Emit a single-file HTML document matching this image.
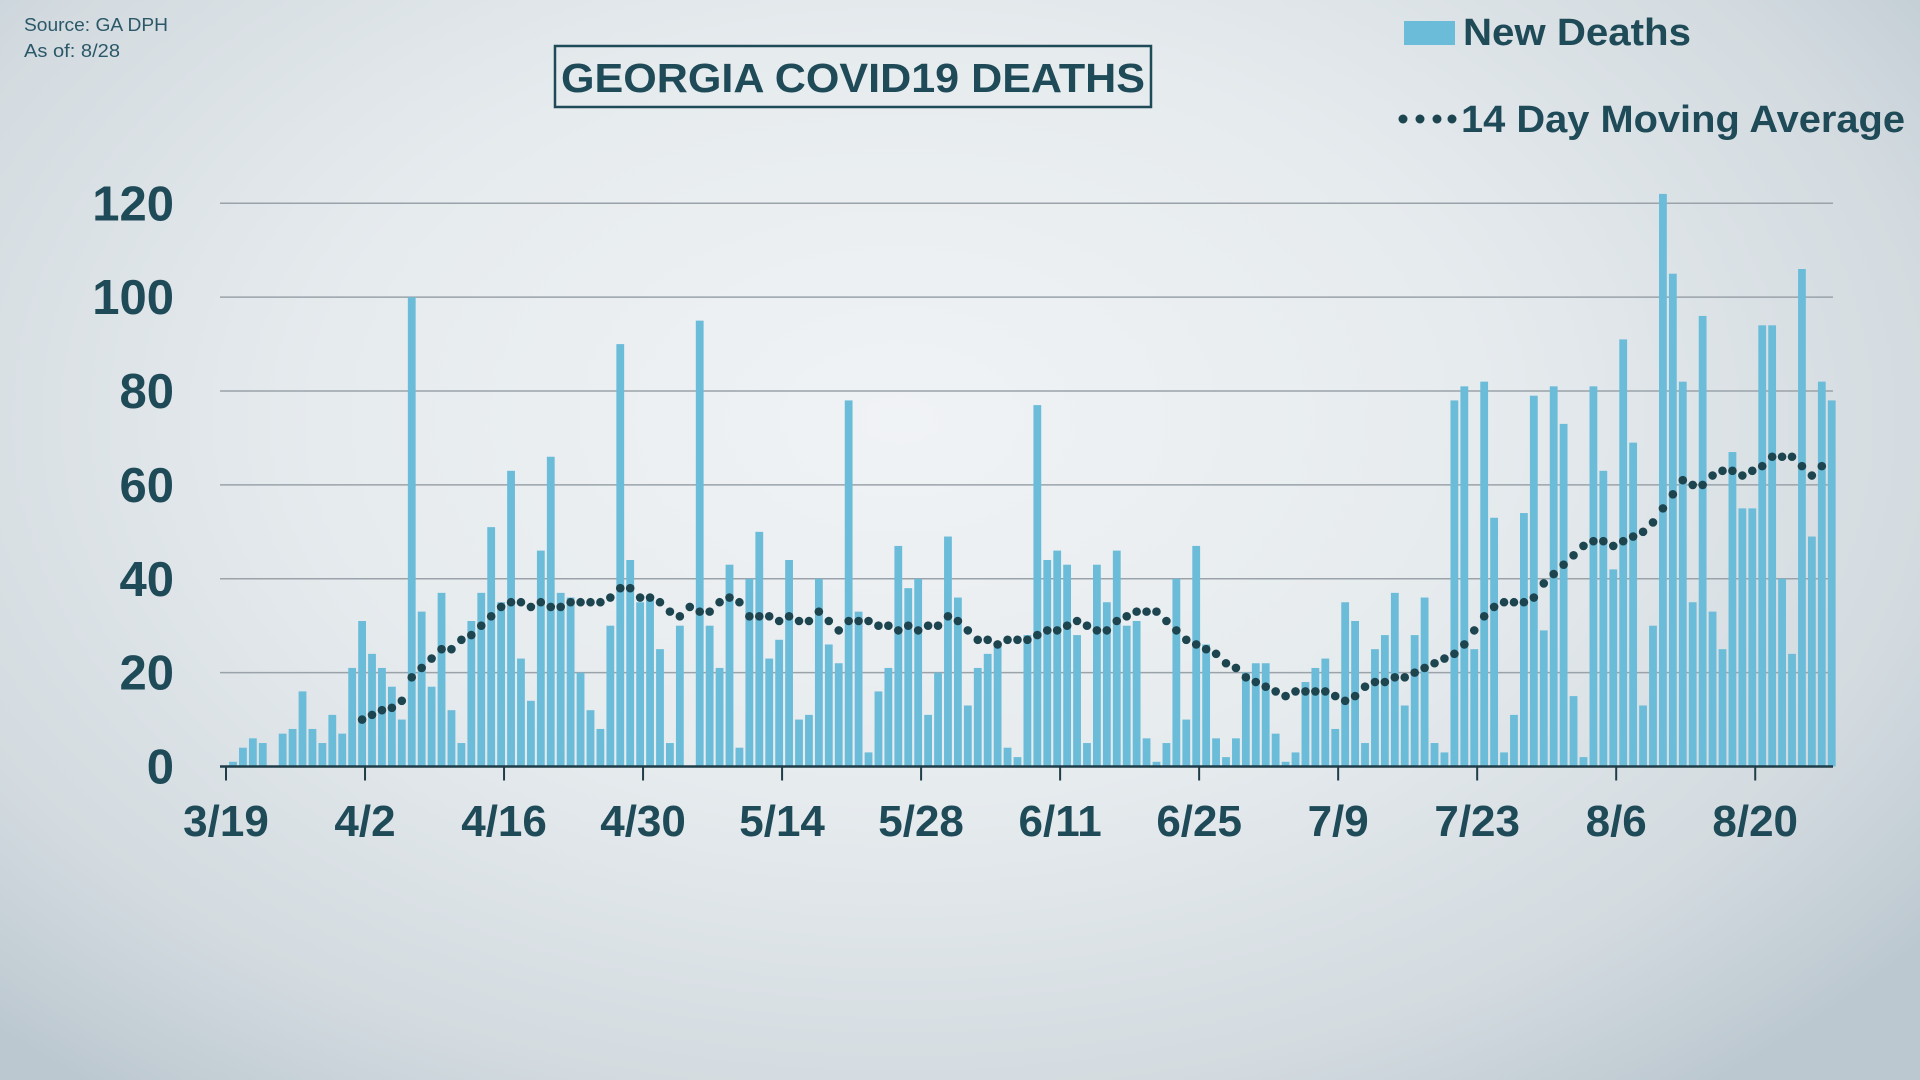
<!DOCTYPE html>
<html><head><meta charset="utf-8">
<style>
html,body{margin:0;padding:0;}
body{width:1920px;height:1080px;overflow:hidden;font-family:"Liberation Sans",sans-serif;
background:radial-gradient(ellipse 1300px 850px at 900px 420px,#f0f3f5 0%,#e6ebee 45%,#d3dbe0 80%,#bcc8d0 100%);}
svg{position:absolute;left:0;top:0;}
</style></head>
<body>
<svg id="chart" width="1920" height="1080">
<text x="24" y="31" font-size="18" fill="#2b5868" textLength="144" lengthAdjust="spacingAndGlyphs">Source: GA DPH</text>
<text x="24" y="57" font-size="18" fill="#2b5868" textLength="96" lengthAdjust="spacingAndGlyphs">As of: 8/28</text>
<rect x="555" y="46" width="596" height="61" fill="none" stroke="#1f4a58" stroke-width="2.5"/>
<text x="853" y="92" font-size="41" font-weight="bold" fill="#1f4a58" text-anchor="middle" textLength="584" lengthAdjust="spacingAndGlyphs">GEORGIA COVID19 DEATHS</text>
<rect x="1404" y="21" width="51" height="24" fill="#6bbcd9"/>
<text x="1463" y="45" font-size="38" font-weight="bold" fill="#1f4a58" textLength="228" lengthAdjust="spacingAndGlyphs">New Deaths</text>
<circle cx="1403" cy="119" r="4.5" fill="#1d4550"/>
<circle cx="1420" cy="119" r="4.5" fill="#1d4550"/>
<circle cx="1437" cy="119" r="4.5" fill="#1d4550"/>
<circle cx="1452" cy="119" r="4.5" fill="#1d4550"/>
<text x="1461" y="132" font-size="38" font-weight="bold" fill="#1f4a58" textLength="444" lengthAdjust="spacingAndGlyphs">14 Day Moving Average</text>
<g id="grid"></g><g id="bars"></g><g id="axis"></g><g id="ma"></g>
</svg>
<script>
const yTicks=[0,20,40,60,80,100,120];
const xTickLabels=["3/19","4/2","4/16","4/30","5/14","5/28","6/11","6/25","7/9","7/23","8/6","8/20"];
const newDeaths=[1,4,6,5,0,7,8,16,8,5,11,7,21,31,24,21,17,10,100,33,17,37,12,5,31,37,51,35,63,23,14,46,66,37,36,20,12,8,30,90,44,35,36,25,5,30,0,95,30,21,43,4,40,50,23,27,44,10,11,40,26,22,78,33,3,16,21,47,38,40,11,20,49,36,13,21,24,26,4,2,28,77,44,46,43,28,5,43,35,46,30,31,6,1,5,40,10,47,26,6,2,6,20,22,22,7,1,3,18,21,23,8,35,31,5,25,28,37,13,28,36,5,3,78,81,25,82,53,3,11,54,79,29,81,73,15,2,81,63,42,91,69,13,30,122,105,82,35,96,33,25,67,55,55,94,94,40,24,106,49,82,78];
const maStart=13;
const movingAvg=[10,11,12,12.5,14,19,21,23,25,25,27,28,30,32,34,35,35,34,35,34,34,35,35,35,35,36,38,38,36,36,35,33,32,34,33,33,35,36,35,32,32,32,31,32,31,31,33,31,29,31,31,31,30,30,29,30,29,30,30,32,31,29,27,27,26,27,27,27,28,29,29,30,31,30,29,29,31,32,33,33,33,31,29,27,26,25,24,22,21,19,18,17,16,15,16,16,16,16,15,14,15,17,18,18,19,19,20,21,22,23,24,26,29,32,34,35,35,35,36,39,41,43,45,47,48,48,47,48,49,50,52,55,58,61,60,60,62,63,63,62,63,64,66,66,66,64,62,64];
const NS='http://www.w3.org/2000/svg';
const y0=766.5,yTop=203.3,yMax=120;
function yScale(v){return y0-(v/yMax)*(y0-yTop);}
const step=9.93;
function xScale(i){return 233+i*step;}
function tickX(i){return 226+i*step;}
function mk(tag,attrs,parent){const e=document.createElementNS(NS,tag);for(const k in attrs)e.setAttribute(k,attrs[k]);parent.appendChild(e);return e;}
const grid=document.getElementById('grid'),bars=document.getElementById('bars'),axis=document.getElementById('axis'),ma=document.getElementById('ma');
yTicks.forEach(v=>{
  if(v>0){const l=mk('line',{x1:220,x2:1833,y1:yScale(v),y2:yScale(v),stroke:'#9aa3aa','stroke-width':1.5},grid);
  
  }
  const t=mk('text',{x:174,y:yScale(v)+17,'font-size':49,'font-weight':'bold',fill:'#1f4a58','text-anchor':'end'},axis);
  t.textContent=v;
  
  
});
newDeaths.forEach((v,i)=>{
  const r=mk('rect',{x:xScale(i)-3.9,y:yScale(v),width:7.8,height:y0-yScale(v),fill:'#6bbcd9'},bars);
  
  
});
const ax=mk('line',{x1:220,x2:1833,y1:y0,y2:y0,stroke:'#1f3d48','stroke-width':2.5},axis);


xTickLabels.forEach((lab,k)=>{
  const x=tickX(k*14);
  const tk=mk('line',{x1:x,x2:x,y1:y0,y2:y0+14,stroke:'#1f3d48','stroke-width':2},axis);
  
  
  const t=mk('text',{x:x,y:836,'font-size':44,'font-weight':'bold',fill:'#1f4a58','text-anchor':'middle'},axis);
  t.textContent=lab;
  
  
});
movingAvg.forEach((v,i)=>{
  const c=mk('circle',{cx:xScale(maStart+i),cy:yScale(v),r:4.3,fill:'#1d4550'},ma);
  
  
});
</script>
</body></html>
